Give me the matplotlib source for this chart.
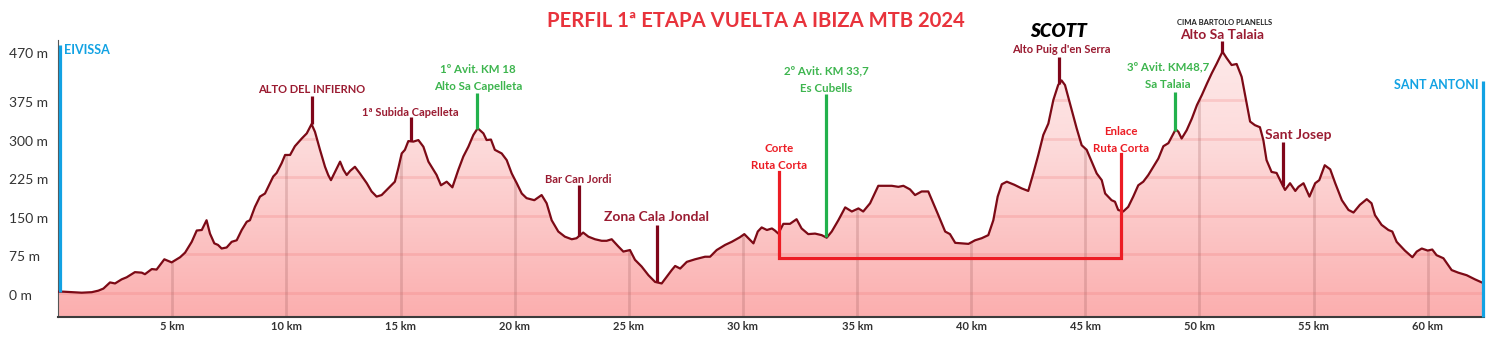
import matplotlib

matplotlib.use("Agg")
import matplotlib.pyplot as plt
import numpy as np
from matplotlib.colors import LinearSegmentedColormap
from matplotlib.patches import Polygon
from matplotlib.transforms import ScaledTranslation, blended_transform_factory

plt.rcParams["font.family"] = ["Lato", "DejaVu Sans"]

# elevation profile (km, metres)
KM = [0.0, 0.22, 1.03, 1.47, 1.76, 1.98, 2.27, 2.49, 2.78, 3.0, 3.36, 3.66, 3.8, 4.1, 4.31,
      4.65, 4.97, 5.34, 5.56, 5.85, 6.07, 6.29, 6.5, 6.65, 6.84, 7.0, 7.16, 7.38, 7.6, 7.82,
      8.04, 8.26, 8.4, 8.62, 8.84, 9.06, 9.2, 9.42, 9.57, 9.79, 9.94, 10.16, 10.37, 10.67, 10.89,
      11.1, 11.25, 11.47, 11.69, 11.83, 11.95, 12.13, 12.35, 12.5, 12.64, 12.79, 13.0, 13.22, 13.52, 13.73,
      13.95, 14.17, 14.46, 14.75, 14.9, 15.05, 15.19, 15.34, 15.56, 15.78, 16.0, 16.22, 16.36, 16.58, 16.77,
      17.02, 17.27, 17.53, 17.75, 17.97, 18.19, 18.38, 18.63, 18.77, 18.96, 19.13, 19.43, 19.65, 19.87, 20.09,
      20.31, 20.52, 20.86, 21.18, 21.4, 21.62, 21.91, 22.2, 22.5, 22.71, 23.0, 23.23, 23.52, 23.81, 24.03,
      24.25, 24.54, 24.76, 25.05, 25.27, 25.56, 25.86, 26.15, 26.44, 26.66, 26.88, 27.03, 27.25, 27.54, 27.9,
      28.34, 28.56, 28.85, 29.22, 29.51, 29.87, 30.06, 30.24, 30.46, 30.65, 30.82, 31.05, 31.27, 31.4, 31.55,
      31.77, 32.06, 32.35, 32.57, 32.86, 33.16, 33.45, 33.67, 33.89, 34.18, 34.48, 34.77, 35.06, 35.27, 35.57,
      35.93, 36.23, 36.52, 36.81, 37.03, 37.32, 37.54, 37.83, 38.12, 38.34, 38.56, 38.86, 39.07, 39.3, 39.58,
      39.88, 40.17, 40.46, 40.75, 40.97, 41.16, 41.34, 41.56, 41.89, 42.21, 42.5, 42.72, 42.94, 43.16, 43.38,
      43.6, 43.81, 43.96, 44.11, 44.33, 44.62, 44.84, 45.06, 45.28, 45.5, 45.72, 45.87, 46.15, 46.3, 46.44,
      46.66, 46.88, 47.1, 47.32, 47.54, 47.76, 47.98, 48.2, 48.42, 48.64, 48.96, 49.08, 49.22, 49.44, 49.67,
      49.89, 50.11, 50.33, 50.54, 50.76, 51.01, 51.2, 51.41, 51.63, 51.85, 52.07, 52.22, 52.43, 52.65, 52.8,
      52.94, 53.16, 53.38, 53.6, 53.75, 53.97, 54.2, 54.34, 54.56, 54.82, 55.07, 55.25, 55.49, 55.73, 55.95,
      56.24, 56.53, 56.75, 57.03, 57.33, 57.54, 57.69, 57.98, 58.28, 58.45, 58.64, 59.0, 59.33, 59.52, 59.74,
      60.0, 60.2, 60.39, 60.69, 61.05, 61.34, 61.71, 62.07, 62.42]
ELEV = [2, 2, 0, 1, 4, 8, 20, 18, 26, 30, 40, 39, 36, 46, 45,
        65, 59, 69, 78, 99, 121, 122, 141, 115, 96, 93, 86, 88, 99, 102,
        122, 138, 141, 167, 187, 193, 206, 226, 233, 252, 268, 268, 285, 300, 310,
        328, 313, 278, 245, 229, 219, 235, 255, 239, 229, 237, 245, 232, 213, 197,
        187, 190, 203, 216, 242, 271, 278, 295, 294, 297, 284, 255, 245, 229, 209,
        216, 205, 239, 265, 284, 307, 320, 310, 297, 298, 278, 271, 258, 232, 213,
        193, 184, 180, 190, 174, 141, 119, 109, 104, 106, 117, 109, 104, 101, 101,
        104, 90, 80, 83, 64, 51, 34, 21, 18, 31, 44, 52, 47, 60, 65,
        70, 70, 83, 93, 99, 108, 114, 106, 96, 119, 127, 122, 125, 121, 115,
        134, 134, 143, 125, 114, 115, 112, 107, 119, 141, 166, 158, 164, 158, 174,
        208, 208, 208, 206, 208, 201, 190, 197, 197, 174, 151, 119, 114, 97, 96,
        95, 102, 106, 112, 141, 187, 211, 216, 210, 203, 198, 232, 268, 307, 329,
        375, 404, 413, 404, 368, 320, 287, 278, 255, 232, 219, 193, 180, 177, 161,
        158, 167, 187, 209, 216, 229, 245, 261, 285, 291, 318, 313, 300, 316, 339,
        365, 385, 407, 427, 446, 469, 456, 443, 445, 420, 368, 333, 326, 322, 297,
        258, 235, 233, 213, 200, 213, 198, 206, 213, 187, 213, 219, 248, 240, 213,
        180, 161, 156, 171, 182, 174, 151, 132, 122, 119, 99, 82, 69, 80, 86,
        82, 84, 73, 67, 44, 39, 34, 26, 19]

Y_TICKS = [0, 75, 150, 225, 300, 375, 470]
Y_LABELS = ["0 m", "75 m", "150 m", "225 m", "300 m", "375 m", "470 m"]
X_TICKS = [5, 10, 15, 20, 25, 30, 35, 40, 45, 50, 55, 60]
X_LABELS = [f"{k} km" for k in X_TICKS]

# named points (dark red)
POINT_NAMES = ["ALTO DEL INFIERNO", "1ª Subida Capelleta", "Bar Can Jordi", "Zona Cala Jondal",
               "Alto Puig d'en Serra", "Alto Sa Talaia", "Sant Josep"]
POINT_KM = [11.1, 15.47, 22.8, 26.25, 43.86, 51.0, 53.67]
POINT_TOP = [383, 342, 210, 132, 459, 490, 293]
POINT_LABEL_KM = [11.1, 15.41, 22.77, 26.23, 43.93, 50.99, 54.32]
POINT_LABEL_Y = [396, 350, 221, 147, 474, 501, 307]
POINT_SIZE = [8, 8, 8, 10, 8, 10, 10]

# feed stations (green)
FEED_LINE1 = ["1º Avit. KM 18", "2º Avit. KM 33,7", "3º Avit. KM48,7"]
FEED_LINE2 = ["Alto Sa Capelleta", "Es Cubells", "Sa Talaia"]
FEED_KM = [18.35, 33.64, 48.93]
FEED_TOP = [388, 386, 390]
FEED_LABEL_KM = [18.39, 33.64, 48.62]
FEED_LABEL_Y = [435, 431, 439]

# short route cut (red)
CUT_KM = [31.58, 46.55]
CUT_TOP = [235, 269]
CUT_LEVEL = 67
CUT_LINE1 = ["Corte", "Enlace"]
CUT_LINE2 = ["Ruta Corta", "Ruta Corta"]
CUT_LABEL_Y = [280, 313]

Y_MIN, Y_MAX = -46.7, 491.7
X_MAX = 62.45

DARK_RED = "#7c0a16"
LABEL_RED = "#9a1b31"
GREEN_TXT = "#3db54e"
GREEN_LINE = "#22b14c"
RED = "#ec1c24"
BLUE = "#12a2e3"

fig = plt.figure(figsize=(15.1, 3.42), dpi=100)
ax = fig.add_axes([58.2 / 1510, 25.3 / 342, 1425.4 / 1510, 276.7 / 342])
ax.set_xlim(0, X_MAX)
ax.set_ylim(Y_MIN, Y_MAX)

km = np.array(KM)
elev = np.array(ELEV)

# gradient fill below the profile
poly_xy = np.column_stack([np.r_[km[0], km, km[-1]], np.r_[Y_MIN, elev, Y_MIN]])
poly = Polygon(poly_xy, closed=True, facecolor="none", edgecolor="none")
ax.add_patch(poly)
cmap = LinearSegmentedColormap.from_list("fill", ["#fbaeae", "#fcc6c6", "#fddcdc", "#fde9e9"])
grad = np.linspace(0, 1, 256).reshape(-1, 1)
im = ax.imshow(grad, extent=[0, km[-1], Y_MIN, 475], origin="lower", aspect="auto",
               cmap=cmap, zorder=1)
im.set_clip_path(poly)

hl = ax.hlines(Y_TICKS, 0, km[-1], colors="#f07070", alpha=0.22, linewidth=2, zorder=2)
hl.set_clip_path(poly)
vl = ax.vlines(X_TICKS, Y_MIN, 480, colors="#9a5a5a", alpha=0.25, linewidth=2, zorder=2)
vl.set_clip_path(poly)

ax.plot(km, elev, color=DARK_RED, linewidth=1.6, zorder=4)

# named points
for name, k, top, lk, ly, fs in zip(POINT_NAMES, POINT_KM, POINT_TOP, POINT_LABEL_KM,
                                     POINT_LABEL_Y, POINT_SIZE):
    ax.plot([k, k], [np.interp(k, km, elev), top], color="#80061a", linewidth=2.3,
            solid_capstyle="butt", zorder=5)
    ax.text(lk, ly, name, color=LABEL_RED, fontsize=fs, fontweight="bold",
            ha="center", va="center", zorder=6)

# feed stations
for l1, l2, k, top, lk, ly in zip(FEED_LINE1, FEED_LINE2, FEED_KM, FEED_TOP,
                                  FEED_LABEL_KM, FEED_LABEL_Y):
    ax.plot([k, k], [np.interp(k, km, elev), top], color=GREEN_LINE, linewidth=2.3,
            solid_capstyle="butt", zorder=5)
    ax.text(lk, ly, l1, color=GREEN_TXT, fontsize=8.3, fontweight="bold", ha="center", va="center")
    ax.text(lk, ly - 33, l2, color=GREEN_TXT, fontsize=8.3, fontweight="bold", ha="center", va="center")

# short route
ax.plot([CUT_KM[0], CUT_KM[0], CUT_KM[1], CUT_KM[1]],
        [CUT_TOP[0], CUT_LEVEL, CUT_LEVEL, CUT_TOP[1]],
        color=RED, linewidth=2.3, solid_joinstyle="miter", zorder=5)
for k, l1, l2, ly in zip(CUT_KM, CUT_LINE1, CUT_LINE2, CUT_LABEL_Y):
    ax.text(k, ly, l1, color=RED, fontsize=8.3, fontweight="bold", ha="center", va="center")
    ax.text(k, ly - 33, l2, color=RED, fontsize=8.3, fontweight="bold", ha="center", va="center")

# start / finish
ax.plot([0.07, 0.07], [elev[0], 482], color=BLUE, linewidth=2.3, solid_capstyle="butt", zorder=6)
ax.plot([km[-1], km[-1]], [Y_MIN, 411], color=BLUE, linewidth=2.3, solid_capstyle="butt",
        zorder=6, clip_on=False)
ax.text(0.25, 472, "EIVISSA", color=BLUE, fontsize=9, fontweight="bold", ha="left", va="center")
ax.text(62.25, 404, "SANT ANTONI", color=BLUE, fontsize=9, fontweight="bold",
        ha="right", va="center")

# sponsor and summit banner
ax.text(43.85, 509, "SCOTT", color="black", fontsize=13.5, fontweight="heavy", fontstyle="italic",
        ha="center", va="center", clip_on=False)
ax.text(51.12, 525, "CIMA BARTOLO PLANELLS", color="#222222", fontsize=5.5, fontweight="bold",
        ha="center", va="center", clip_on=False)

# axes
for side in ["top", "right"]:
    ax.spines[side].set_visible(False)
ax.spines["bottom"].set_color("#3c3c3c")
ax.spines["bottom"].set_linewidth(1.5)
ax.spines["left"].set_color("#555555")
ax.spines["left"].set_linewidth(0.8)
ax.set_xticks(X_TICKS, X_LABELS)
ax.tick_params(axis="x", length=0, pad=3, labelsize=8, labelcolor="#333333")
for lab in ax.get_xticklabels():
    lab.set_fontweight("bold")
ax.set_yticks([])

ylab_tr = blended_transform_factory(fig.transFigure, ax.transData) + \
    ScaledTranslation(0, -0.03, fig.dpi_scale_trans)
for v, lab in zip(Y_TICKS, Y_LABELS):
    ax.text(9 / 1510, v, lab, transform=ylab_tr, fontsize=10, color="#333333",
            ha="left", va="center")

fig.text(755.5 / 1510, 1 - 21 / 342, "PERFIL 1ª ETAPA VUELTA A IBIZA MTB 2024",
         color="#e8333c", fontsize=14.6, fontweight="bold", ha="center", va="center")

fig.savefig("out.png", dpi=100)
